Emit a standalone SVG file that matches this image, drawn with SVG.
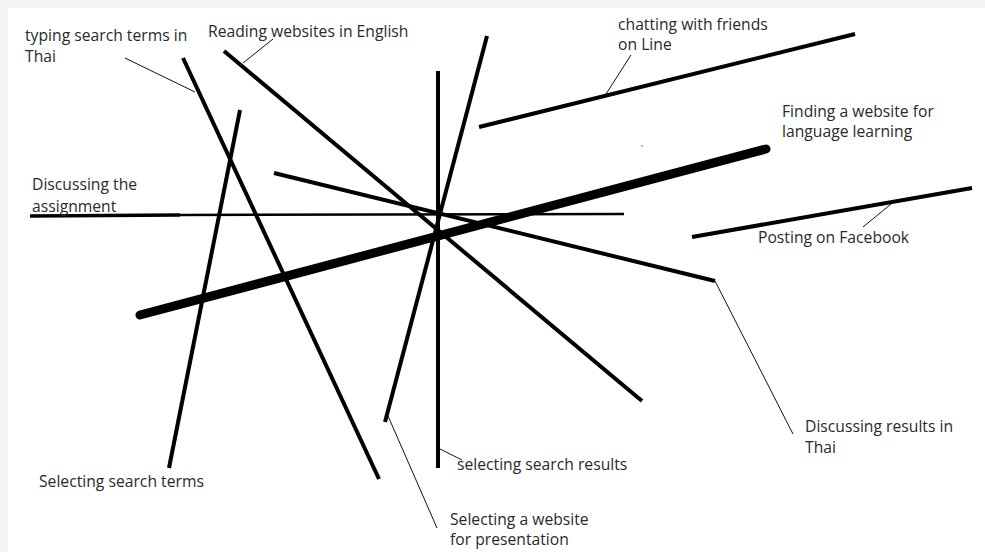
<svg xmlns="http://www.w3.org/2000/svg" width="985" height="552" viewBox="0 0 985 552">
<style>
.lbl{font-family:"Open Sans","Liberation Sans",sans-serif;font-size:15.7px;fill:#2a2a2a}
.thk{stroke:#000;stroke-width:4;stroke-linecap:butt;fill:none}
.ldr{stroke:#111;stroke-width:1;fill:none}
</style>
<rect x="0" y="0" width="985" height="552" fill="#f3f3f3"/>
<rect x="8" y="8" width="977" height="544" fill="#fff"/>
<g id="typing-search-terms">
<line class="thk" x1="183" y1="58" x2="379" y2="479"/>
<text class="lbl" x="25" y="41">typing search terms in</text>
<text class="lbl" x="25" y="62">Thai</text>
</g>
<g id="reading-websites">
<line class="thk" x1="224" y1="51" x2="642" y2="401"/>
<text class="lbl" x="208" y="37">Reading websites in English</text>
</g>
<g id="selecting-search-results">
<line class="thk" x1="438" y1="71" x2="438" y2="468"/>
<text class="lbl" x="457" y="470">selecting search results</text>
</g>
<g id="selecting-website-presentation">
<line class="thk" x1="487" y1="36" x2="385" y2="422"/>
<text class="lbl" x="450" y="525">Selecting a website</text>
<text class="lbl" x="450" y="545">for presentation</text>
</g>
<g id="selecting-search-terms">
<line class="thk" x1="240" y1="110" x2="169" y2="468"/>
<text class="lbl" x="39" y="487">Selecting search terms</text>
</g>
<g id="chatting-line">
<line class="thk" x1="479" y1="127" x2="855" y2="34"/>
<text class="lbl" x="618" y="30">chatting with friends</text>
<text class="lbl" x="618" y="50">on Line</text>
</g>
<g id="finding-website">
<line stroke="#000" stroke-width="9" stroke-linecap="round" x1="140" y1="315" x2="766" y2="149"/>
<text class="lbl" x="782" y="117">Finding a website for</text>
<text class="lbl" x="782" y="137">language learning</text>
</g>
<g id="discussing-assignment">
<line stroke="#000" stroke-width="3.5" x1="30" y1="216" x2="180" y2="215"/>
<line stroke="#000" stroke-width="2.5" x1="180" y1="215" x2="624" y2="214"/>
<text class="lbl" x="32" y="190">Discussing the</text>
<text class="lbl" x="32" y="212">assignment</text>
</g>
<g id="discussing-results">
<line class="thk" x1="274" y1="173" x2="715" y2="281"/>
<text class="lbl" x="805" y="432">Discussing results in</text>
<text class="lbl" x="805" y="453">Thai</text>
</g>
<g id="posting-facebook">
<line class="thk" x1="692" y1="237" x2="972" y2="188"/>
<text class="lbl" x="758" y="243">Posting on Facebook</text>
</g>
<g id="connectors">
<line class="ldr" x1="125" y1="58" x2="195" y2="92"/>
<line class="ldr" x1="243" y1="63" x2="273" y2="39"/>
<line class="ldr" x1="440" y1="449" x2="462" y2="460"/>
<line class="ldr" x1="388" y1="416" x2="437" y2="528"/>
<line class="ldr" x1="606" y1="94" x2="631" y2="55"/>
<line class="ldr" x1="715" y1="281" x2="793" y2="434"/>
<line class="ldr" x1="891" y1="204" x2="863" y2="227"/>
</g>
<circle cx="642" cy="146" r="0.8" fill="#555"/>
</svg>
